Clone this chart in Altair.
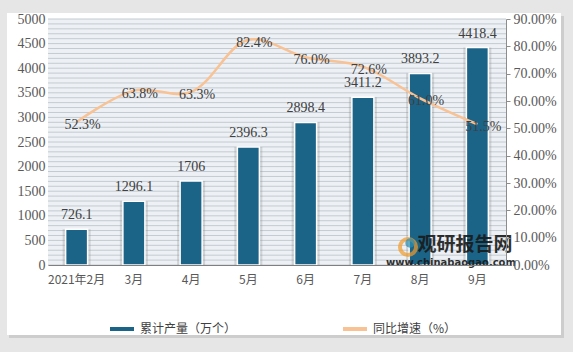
import altair as alt
import pandas as pd

months = ["2021年2月", "3月", "4月", "5月", "6月", "7月", "8月", "9月"]
output = [726.1, 1296.1, 1706, 2396.3, 2898.4, 3411.2, 3893.2, 4418.4]
output_labels = ["726.1", "1296.1", "1706", "2396.3", "2898.4", "3411.2", "3893.2", "4418.4"]
growth = [52.3, 63.8, 63.3, 82.4, 76.0, 72.6, 61.0, 51.5]
growth_labels = ["52.3%", "63.8%", "63.3%", "82.4%", "76.0%", "72.6%", "61.0%", "51.5%"]
left_ticks = [0, 500, 1000, 1500, 2000, 2500, 3000, 3500, 4000, 4500, 5000]
right_ticks = [0, 10, 20, 30, 40, 50, 60, 70, 80, 90]
series_names = ["累计产量（万个）", "同比增速（%）"]

BLUE = "#1b6488"
ORANGE = "#f9c294"
SERIF = "Liberation Serif"
CJK = "Noto Sans CJK SC"

df = pd.DataFrame({
    "month": months,
    "output": output,
    "olab": output_labels,
    "growth": growth,
    "glab": growth_labels,
    "s_bar": series_names[0],
    "s_line": series_names[1],
})

W, H = 458, 246

x_axis = alt.Axis(title=None, labelAngle=0, labelFont=CJK, labelFontSize=12,
                  labelColor="#595959", domainColor="#7f7f7f", domainWidth=1,
                  ticks=False, labelPadding=9, grid=False, zindex=2)
x_scale = alt.Scale(paddingInner=0.0, paddingOuter=0.0)


def xenc():
    return alt.X("month:N", sort=months, scale=x_scale, axis=x_axis)


yl_scale = alt.Scale(domain=[0, 5000], nice=False)
yr_scale = alt.Scale(domain=[0, 90], nice=False)
yl_axis = alt.Axis(title=None, values=left_ticks, grid=False, domain=False, ticks=False,
                   labelFont=SERIF, labelFontSize=14, labelColor="#595959", format="d",
                   labelPadding=3, labelOverlap=False, zindex=2)
yr_axis = alt.Axis(title=None, orient="right", values=right_ticks, grid=False,
                   domain=True, domainColor="#8c8c8c", ticks=True, tickColor="#8c8c8c",
                   tickSize=4, labelFont=SERIF, labelFontSize=14, labelColor="#595959",
                   labelPadding=3, labelOverlap=False, zindex=2,
                   labelExpr="format(datum.value, '.2f') + '%'")


def ylenc(field):
    return alt.Y(field, scale=yl_scale, axis=yl_axis)


def yrenc(field):
    return alt.Y(field, scale=yr_scale, axis=yr_axis)


color_scale = alt.Scale(domain=series_names, range=[BLUE, ORANGE])

one = pd.DataFrame({"k": [0]})

# decorative card behind the chart
shadow = alt.Chart(one).mark_rect(color="#cdcdcd").encode(
    x=alt.value(-39), x2=alt.value(516), y=alt.value(-3), y2=alt.value(319))
card = alt.Chart(one).mark_rect(color="white").encode(
    x=alt.value(-41), x2=alt.value(513), y=alt.value(-6), y2=alt.value(316))
plotbg = alt.Chart(one).mark_rect(color="#edf1f5").encode(
    x=alt.value(0), x2=alt.value(W), y=alt.value(0), y2=alt.value(H))

stripes = alt.Chart(alt.sequence(0, 5001, 100, as_="v")).mark_rule(
    color="#c3cad1", strokeWidth=1).encode(
    y=ylenc("v:Q"))

bar_shadow = alt.Chart(df).mark_bar(size=28, color="#8f8f8f", opacity=0.3).encode(
    x=xenc(),
    y=ylenc("output:Q"),
)

bars = alt.Chart(df).mark_bar(size=22, stroke="white", strokeWidth=1.5).encode(
    x=xenc(),
    y=ylenc("output:Q"),
    color=alt.Color("s_bar:N", scale=color_scale,
                    legend=alt.Legend(title=None, orient="none", legendX=60, legendY=296,
                                      direction="horizontal", symbolType="stroke",
                                      symbolSize=576, symbolStrokeWidth=4,
                                      labelFont=CJK, labelFontSize=12, labelColor="#404040",
                                      columnPadding=98, labelOffset=4, zindex=2)),
)

bar_text = alt.Chart(df).mark_text(font=SERIF, fontSize=14, color="#404040", dy=-14,
                                   baseline="middle").encode(
    x=xenc(),
    y=ylenc("output:Q"),
    text="olab:N",
)

wm1 = alt.Chart(one).mark_text(text="观研报告网", font=CJK, fontSize=19, fontWeight="bold",
                               color="#1a1a1a", opacity=0.9).encode(
    x=alt.value(417), y=alt.value(226))
wm2 = alt.Chart(one).mark_text(text="www.chinabaogao.com", font="DejaVu Sans", fontSize=10,
                               fontWeight="bold", color="#1a1a1a", opacity=0.9).encode(
    x=alt.value(403), y=alt.value(244))
wm_icon = alt.Chart(one).mark_point(shape="circle", size=260, filled=False, strokeWidth=4,
                                    color="#f29b2b").encode(
    x=alt.value(360), y=alt.value(228))
wm_icon2 = alt.Chart(one).mark_point(shape="circle", size=90, filled=True,
                                     color="#2a8fb3").encode(
    x=alt.value(362), y=alt.value(224))

left = alt.layer(shadow, card, plotbg, stripes, bar_shadow, bars, bar_text,
                 wm_icon, wm_icon2, wm1, wm2)

line = alt.Chart(df).mark_line(interpolate="catmull-rom", strokeWidth=2.5).encode(
    x=xenc(),
    y=yrenc("growth:Q"),
    color=alt.Color("s_line:N", scale=color_scale, legend=None),
)

line_text = alt.Chart(df).mark_text(font=SERIF, fontSize=14, color="#404040", dx=6, dy=3,
                                    baseline="middle").encode(
    x=xenc(),
    y=yrenc("growth:Q"),
    text="glab:N",
)

right = alt.layer(line, line_text)

chart = alt.layer(left, right).resolve_scale(y="independent").properties(
    width=W, height=H,
    padding={"left": 48, "top": 19, "right": 67, "bottom": 87},
    autosize=alt.AutoSizeParams(type="none"),
    background="#e6e6e6",
).configure_view(stroke=None)

chart.save("out.html", embed_options={"renderer": "svg", "actions": False})
